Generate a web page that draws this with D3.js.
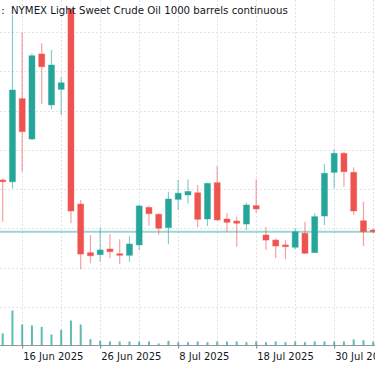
<!DOCTYPE html>
<html><head><meta charset="utf-8">
<script src="https://cdn.jsdelivr.net/npm/d3@7"></script>
<style>
html,body{margin:0;padding:0;background:#fff;}
svg{display:block;}
text{font-family:"DejaVu Sans",sans-serif;}
</style></head>
<body>
<svg id="c" width="375" height="366"></svg>
<script>
const dates = ["2025-06-12","2025-06-13","2025-06-16","2025-06-17","2025-06-18","2025-06-19","2025-06-20","2025-06-23","2025-06-24","2025-06-25","2025-06-26","2025-06-27","2025-06-30","2025-07-01","2025-07-02","2025-07-03","2025-07-04","2025-07-07","2025-07-08","2025-07-09","2025-07-10","2025-07-11","2025-07-14","2025-07-15","2025-07-16","2025-07-17","2025-07-18","2025-07-21","2025-07-22","2025-07-23","2025-07-24","2025-07-25","2025-07-28","2025-07-29","2025-07-30","2025-07-31","2025-08-01","2025-08-04","2025-08-05"];
const open  = [68.08,67.97,73.26,70.69,76.10,72.86,73.85,78.96,66.55,63.46,63.33,63.69,63.39,63.29,63.95,66.34,65.90,65.05,66.85,67.13,67.27,65.60,67.91,65.60,65.47,65.28,66.45,64.58,64.26,63.95,63.80,64.69,63.46,65.79,68.57,69.78,68.57,65.49,64.90];
const high  = [68.19,78.58,77.46,76.15,76.78,76.36,74.62,79.00,66.81,64.58,65.07,64.65,64.31,64.52,66.49,66.45,65.96,67.34,68.08,68.13,67.76,67.89,68.97,65.96,65.75,66.64,68.13,65.07,64.37,64.26,65.01,65.43,65.96,69.10,70.04,69.88,68.89,66.70,65.01];
const low   = [65.43,67.55,68.61,70.63,72.92,72.58,72.22,65.33,62.40,62.78,62.88,63.10,62.74,62.88,63.63,65.17,64.60,63.99,66.17,66.59,65.07,65.15,65.49,64.79,63.84,64.90,66.00,63.63,63.10,63.04,63.67,63.37,63.44,65.22,67.55,67.66,65.85,63.88,64.69];
const close = [67.97,73.81,71.16,75.99,75.29,75.40,74.27,66.11,63.37,63.26,63.63,63.52,63.29,64.01,66.43,65.94,65.01,66.87,67.24,67.35,65.58,67.87,65.54,65.39,65.33,66.49,66.24,64.26,63.88,63.84,64.79,63.42,65.75,68.51,69.78,68.61,66.11,64.79,64.79];
const volume = [120,350,210,200,187,110,157,250,210,63,47,40,40,40,40,40,20,47,33,33,40,33,40,40,40,33,40,33,40,33,40,33,40,40,40,40,60,53,40]; // thousand contracts
const priceGrid = [60,62.5,65,67.5,70,72.5,75,77.5];
const tickDates = ["2025-06-16","2025-06-26","2025-07-08","2025-07-18","2025-07-30"];
const tickLabels = ["16 Jun 2025","26 Jun 2025","8 Jul 2025","18 Jul 2025","30 Jul 2025"];
const title = "NYMEX Light Sweet Crude Oil 1000 barrels continuous";

const W = 375, H = 366;
const UP = "#26a69a", DOWN = "#ef5350";
const svg = d3.select("#c");

const x = d3.scalePoint().domain(dates).range([2.7, 373.2]);
const y = d3.scaleLinear().domain([60, 77.5]).range([307, 32]);
const yv = d3.scaleLinear().domain([0, 400]).range([345.5, 305.5]);

// grid
const grid = svg.append("g").attr("stroke", "#e0e3eb").attr("stroke-dasharray", "2,2").attr("stroke-width", 1);
grid.selectAll("line.h").data(priceGrid).join("line").attr("class","h")
  .attr("x1", 0).attr("x2", W).attr("y1", d => Math.round(y(d)) + 0.5).attr("y2", d => Math.round(y(d)) + 0.5);
const vgrid = dates.filter((d, i) => i >= 2 && (i - 2) % 4 === 0);
grid.selectAll("line.v").data(vgrid).join("line").attr("class","v")
  .attr("x1", d => Math.round(x(d)) + 0.5).attr("x2", d => Math.round(x(d)) + 0.5).attr("y1", 0).attr("y2", 345.5);

// volume
svg.append("g").selectAll("rect").data(dates).join("rect")
  .attr("x", d => x(d) - 1).attr("width", 2)
  .attr("y", (d, i) => yv(volume[i])).attr("height", (d, i) => yv(0) - yv(volume[i]))
  .attr("fill", UP).attr("fill-opacity", 0.75);

// last price line
svg.append("line").attr("x1", 0).attr("x2", W)
  .attr("y1", y(close[close.length - 1])).attr("y2", y(close[close.length - 1]))
  .attr("stroke", UP).attr("stroke-opacity", 0.45).attr("stroke-width", 2);

// candles
const cg = svg.append("g");
const col = i => close[i] >= open[i] ? UP : DOWN;
cg.selectAll("line.w").data(dates).join("line").attr("class","w")
  .attr("x1", d => x(d)).attr("x2", d => x(d))
  .attr("y1", (d, i) => y(high[i])).attr("y2", (d, i) => y(low[i]))
  .attr("stroke", (d, i) => col(i)).attr("stroke-opacity", 0.55).attr("stroke-width", 1.2);
cg.selectAll("rect.b").data(dates).join("rect").attr("class","b")
  .attr("x", d => x(d) - 3).attr("width", 6)
  .attr("y", (d, i) => y(Math.max(open[i], close[i])))
  .attr("height", (d, i) => Math.max(1.5, Math.abs(y(open[i]) - y(close[i]))))
  .attr("fill", (d, i) => col(i))
  .attr("stroke", (d, i) => col(i)).attr("stroke-opacity", 0.4).attr("stroke-width", 1);

// x axis
svg.append("line").attr("x1", 0).attr("x2", W).attr("y1", 345.5).attr("y2", 345.5).attr("stroke", "#9598a1");
const ax = svg.append("g").attr("transform", "translate(0,345.5)")
  .call(d3.axisBottom(x).tickValues(tickDates).tickFormat((d, i) => tickLabels[i]).tickSize(3).tickSizeOuter(0));
ax.select(".domain").remove();
ax.selectAll(".tick line").attr("stroke", "#787b86");
ax.selectAll(".tick text").attr("text-anchor", "start").attr("x", 0.5).attr("y", 7.5)
  .attr("dy", "0.71em").attr("fill", "#131722").style("font-size", "10px").style("font-family", "DejaVu Sans");

// title
svg.append("text").attr("x", 1.2).attr("y", 14).attr("font-size", 10.2).attr("fill", "#131722").text(":");
svg.append("text").attr("x", 11).attr("y", 14).attr("font-size", 10.2).attr("fill", "#131722").text(title);
</script>
</body></html>
